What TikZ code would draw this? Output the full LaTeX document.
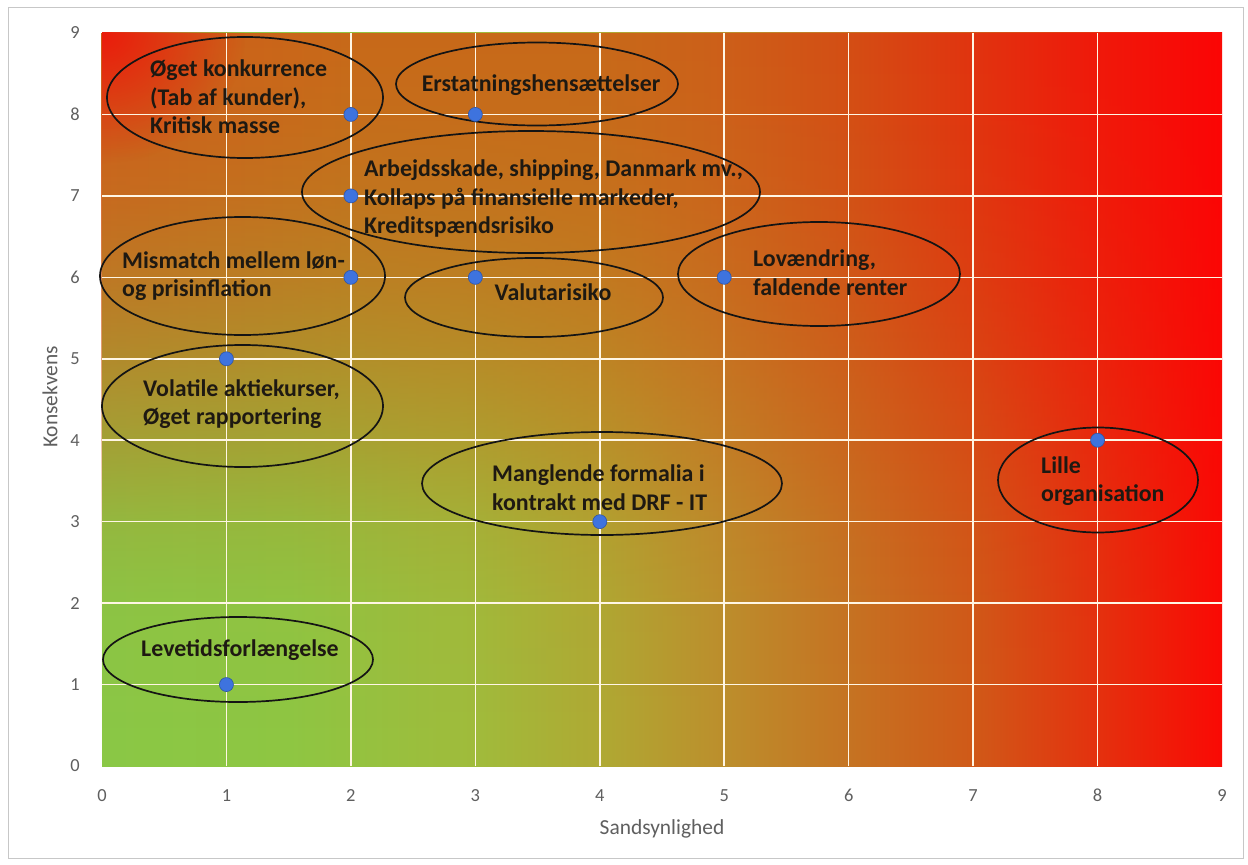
\documentclass[tikz,border=0pt]{standalone}
\usepackage{fontspec}
\setmainfont{Carlito}
\usetikzlibrary{shapes.geometric,fadings}

\definecolor{b0}{RGB}{138,200,70}
\definecolor{b15}{RGB}{142,199,67}
\definecolor{b3}{RGB}{160,188,60}
\definecolor{b4}{RGB}{175,170,52}
\definecolor{b5}{RGB}{188,143,45}
\definecolor{b6}{RGB}{197,116,35}
\definecolor{b7}{RGB}{208,90,25}
\definecolor{b8}{RGB}{228,50,15}
\definecolor{b9}{RGB}{250,10,5}
\definecolor{t0}{RGB}{208,92,25}
\definecolor{t2}{RGB}{200,105,25}
\definecolor{t4}{RGB}{200,105,25}
\definecolor{t5}{RGB}{205,95,25}
\definecolor{t6}{RGB}{212,78,20}
\definecolor{t7}{RGB}{225,52,15}
\definecolor{t8}{RGB}{240,25,10}
\definecolor{t9}{RGB}{252,5,5}
\definecolor{cornerred}{RGB}{235,28,12}
\definecolor{dotblue}{RGB}{62,115,222}
\definecolor{txt}{RGB}{30,25,18}
\definecolor{ticktxt}{RGB}{95,95,95}
\definecolor{gridc}{RGB}{255,246,228}

\pgfdeclarehorizontalshading{bottomrow}{100bp}{color(0bp)=(b0); color(25bp)=(b0); color(33.33bp)=(b15); color(41.67bp)=(b3); color(47.22bp)=(b4); color(52.78bp)=(b5); color(58.33bp)=(b6); color(63.89bp)=(b7); color(69.44bp)=(b8); color(75bp)=(b9); color(100bp)=(b9)}
\pgfdeclarehorizontalshading{toprow}{100bp}{color(0bp)=(t0); color(25bp)=(t0); color(36.11bp)=(t2); color(47.22bp)=(t4); color(52.78bp)=(t5); color(58.33bp)=(t6); color(63.89bp)=(t7); color(69.44bp)=(t8); color(75bp)=(t9); color(100bp)=(t9)}
\pgfdeclareverticalshading{vfadeshade}{100bp}{color(0bp)=(black); color(25bp)=(black); color(36.11bp)=(white!4!black); color(41.67bp)=(white!15!black); color(47.22bp)=(white!37!black); color(52.78bp)=(white!57!black); color(58.33bp)=(white!74!black); color(63.89bp)=(white!87!black); color(69.44bp)=(white!95!black); color(75bp)=(white); color(100bp)=(white)}
\pgfdeclarefading{vfade}{\pgfuseshading{vfadeshade}}
\tikzfading[name=cornerfade, inner color=transparent!0, outer color=transparent!100]

\tikzset{
  ell/.style={ellipse, draw=black!92, line width=1.7bp, inner sep=0pt},
  dot/.style={circle, fill=dotblue, draw=dotblue!75!black, line width=0.6bp, minimum size=14bp, inner sep=0pt},
  lbl/.style={font=\bfseries\fontsize{24}{28.5}\selectfont, text=txt, inner sep=0pt, align=left},
  tick/.style={font=\fontsize{18.5}{20}\selectfont, text=ticktxt, inner sep=0pt},
  axt/.style={font=\fontsize{21.5}{23}\selectfont, text=ticktxt, inner sep=0pt},
  gridl/.style={draw=gridc, line width=1.6bp}
}

\begin{document}
\begin{tikzpicture}[x=1bp, y=-1bp]
\useasboundingbox (0,0) rectangle (1248,865);
\fill[white] (0,0) rectangle (1248,865);
\draw[black!22, line width=1bp] (8,7) rectangle (1243,858);

\begin{scope}[shift={(102,766)}, x=124.444bp, y=81.444bp]
  \shade[shading=bottomrow] (0,0) rectangle (9,9);
  \shade[shading=toprow, path fading=vfade] (0,0) rectangle (9,9);
  \begin{scope}
    \clip (0,0) rectangle (9,9);
    \fill[cornerred, path fading=cornerfade] (0,9) ellipse [x radius=1.15, y radius=1.6];
  \end{scope}
  \foreach \i in {1,...,8} {
    \draw[gridl] (\i,0) -- (\i,9);
    \draw[gridl] (0,\i) -- (9,\i);
  }
  \foreach \i in {0,...,9} {
    \node[tick] (yt\i) at (-0.217,\i) {\i};
    \node[tick] (xt\i) at (\i,-0.36) {\i};
  }
\end{scope}

\node[axt] (xtitle) at (662,829) {Sandsynlighed};
\node[axt, rotate=90] (ytitle) at (50,397) {Konsekvens};

% ellipses
\node[ell, minimum width=276bp, minimum height=121bp] (e1) at (245,97.5) {};
\node[ell, minimum width=282bp, minimum height=83bp] (e2) at (537,84) {};
\node[ell, minimum width=458bp, minimum height=122bp] (e3) at (531,192) {};
\node[ell, minimum width=285bp, minimum height=118bp] (e4) at (242.5,276) {};
\node[ell, minimum width=258bp, minimum height=79bp] (e5) at (534,297.5) {};
\node[ell, minimum width=282bp, minimum height=104bp] (e6) at (819,274) {};
\node[ell, minimum width=281bp, minimum height=122bp] (e7) at (242.5,406) {};
\node[ell, minimum width=200bp, minimum height=105bp] (e8) at (1098,480) {};
\node[ell, minimum width=360bp, minimum height=103bp] (e9) at (602,483.5) {};
\node[ell, minimum width=270bp, minimum height=85bp] (e10) at (238,659.5) {};

% data points
\begin{scope}[shift={(102,766)}, x=124.444bp, y=81.444bp]
  \node[dot] (p1) at (2,8) {};
  \node[dot] (p2) at (3,8) {};
  \node[dot] (p3) at (2,7) {};
  \node[dot] (p4) at (2,6) {};
  \node[dot] (p5) at (3,6) {};
  \node[dot] (p6) at (5,6) {};
  \node[dot] (p7) at (1,5) {};
  \node[dot] (p8) at (8,4) {};
  \node[dot] (p9) at (4,3) {};
  \node[dot] (p10) at (1,1) {};
\end{scope}

% labels
\node[lbl, anchor=west] (l1) at (150,97) {Øget konkurrence\\(Tab af kunder),\\Kritisk masse};
\node[lbl] (l2) at (541,85) {Erstatningshensættelser};
\node[lbl, anchor=west] (l3) at (364,198.5) {Arbejdsskade, shipping, Danmark mv.,\\Kollaps på finansielle markeder,\\Kreditspændsrisiko};
\node[lbl, anchor=west] (l4) at (122,276) {Mismatch mellem løn-\\og prisinflation};
\node[lbl] (l5) at (553,292) {Valutarisiko};
\node[lbl, anchor=west] (l6) at (753,272.5) {Lovændring,\\faldende renter};
\node[lbl, anchor=west] (l7) at (143,404) {Volatile aktiekurser,\\Øget rapportering};
\node[lbl, anchor=west] (l8) at (1041,481) {Lille\\organisation};
\node[lbl, anchor=west] (l9) at (492,487.5) {Manglende formalia i\\kontrakt med DRF - IT};
\node[lbl] (l10) at (240,650) {Levetidsforlængelse};
\end{tikzpicture}
\end{document}
